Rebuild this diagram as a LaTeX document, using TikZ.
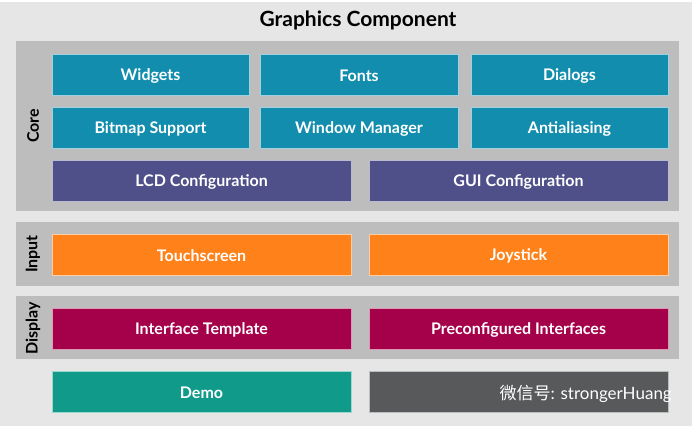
\documentclass[tikz,border=0pt]{standalone}
\usepackage{fontspec}
\setmainfont{Lato}
\newfontfamily\cjk{Noto Sans CJK SC}
\definecolor{bgc}{HTML}{E6E6E6}
\definecolor{panelc}{HTML}{BDBDBD}
\definecolor{tealc}{HTML}{138DAD}
\definecolor{slatec}{HTML}{4F5089}
\definecolor{orangec}{HTML}{FF8119}
\definecolor{magc}{HTML}{A5004A}
\definecolor{greenc}{HTML}{0F9A8A}
\definecolor{greyc}{HTML}{58595B}
\begin{document}
\begin{tikzpicture}[x=1pt,y=-1pt,
  panel/.style={fill=panelc,draw=none},
  blk/.style={draw=white!60!#1,line width=0.5pt,fill=#1,text=white,font=\bfseries\fontsize{16}{18}\selectfont,nodes={yshift=-1.5pt}},
  side/.style={rotate=90,font=\bfseries\fontsize{16}{18}\selectfont,text=black}]
\useasboundingbox (0,0) rectangle (695,426);
\fill[bgc] (0,2) rectangle (692,426);
\node[font=\bfseries\fontsize{21}{24}\selectfont] (title) at (358,20) {Graphics Component};
% panels
\fill[panel] (16,41) rectangle (679,211);
\fill[panel] (16,222) rectangle (679,286);
\fill[panel] (16,296) rectangle (679,359);
\node[side] (core) at (33,126) {Core};
\node[side] (input) at (33,254) {Input};
\node[side] (display) at (33,328) {Display};
% core
\draw[blk=tealc] (52,54) rectangle node (widgets) {Widgets} (249,95);
\draw[blk=tealc] (260,54) rectangle node (fonts) {Fonts} (458,95);
\draw[blk=tealc] (471,54) rectangle node (dialogs) {Dialogs} (668,95);
\draw[blk=tealc] (52,107) rectangle node (bitmap) {Bitmap Support} (249,148);
\draw[blk=tealc] (260,107) rectangle node (wm) {Window Manager} (458,148);
\draw[blk=tealc] (471,107) rectangle node (aa) {Antialiasing} (668,148);
\draw[blk=slatec] (52,160) rectangle node (lcd) {LCD Configuration} (351,201);
\draw[blk=slatec] (369,160) rectangle node (gui) {GUI Configuration} (668,201);
% input
\draw[blk=orangec] (52,234) rectangle node (touch) {Touchscreen} (351,275);
\draw[blk=orangec] (369,234) rectangle node (joy) {Joystick} (668,275);
% display
\draw[blk=magc] (52,308) rectangle node (itpl) {Interface Template} (351,349);
\draw[blk=magc] (369,308) rectangle node (preconf) {Preconfigured Interfaces} (668,349);
% bottom
\draw[blk=greenc] (52,371) rectangle node (demo) {Demo} (351,412);
\draw[blk=greyc] (369,371) rectangle (668,412);
\node[anchor=east,text=white,font=\fontsize{17}{19}\selectfont,inner sep=0pt] (wm2) at (672,394) {{\cjk 微信号}: strongerHuang};
\end{tikzpicture}
\end{document}
